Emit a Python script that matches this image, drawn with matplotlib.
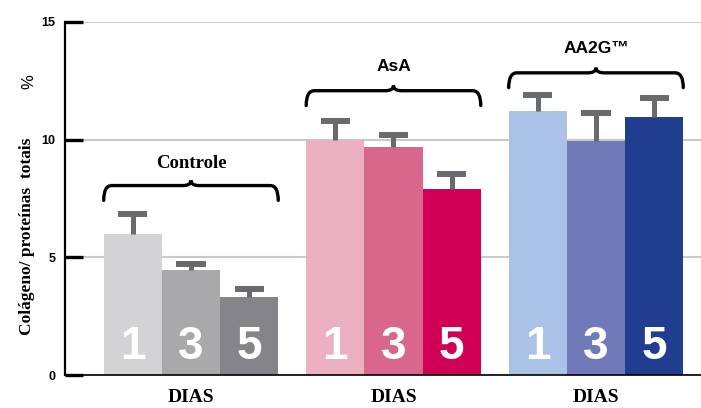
import matplotlib
matplotlib.use('Agg')
import matplotlib.pyplot as plt
from matplotlib.path import Path
from matplotlib.patches import PathPatch
import numpy as np

# data (% colageno / proteinas totais)
groups = ['Controle', 'AsA', 'AA2G\u2122']
days = ['1', '3', '5']
means = [[6.0, 4.45, 3.3],
         [10.0, 9.7, 7.9],
         [11.2, 9.95, 10.95]]
errs = [[0.85, 0.25, 0.35],
        [0.8, 0.5, 0.65],
        [0.7, 1.2, 0.8]]
colors = [['#d3d3d5', '#a9a9ab', '#858589'],
          ['#ebb1c0', '#d9668b', '#cf0056'],
          ['#a9c2e6', '#707ab8', '#213d8f']]
yticks = [0, 5, 10, 15]

# layout
group_gap = 3.48
brace_levels = [8.05, 12.08, 12.84]
serif = 'Liberation Serif'
sans = 'Liberation Sans'


def brace(ax, x0, x1, y, h=0.63, rx=0.14, p=0.22):
    xm = (x0 + x1) / 2
    verts = [(x0, y - h), (x0, y), (x0 + rx, y),
             (xm - rx, y), (xm, y), (xm, y + p),
             (xm, y), (xm + rx, y),
             (x1 - rx, y), (x1, y), (x1, y - h)]
    codes = [Path.MOVETO, Path.CURVE3, Path.CURVE3,
             Path.LINETO, Path.CURVE3, Path.CURVE3,
             Path.CURVE3, Path.CURVE3,
             Path.LINETO, Path.CURVE3, Path.CURVE3]
    ax.add_patch(PathPatch(Path(verts, codes), fill=False, lw=2.4,
                           color='black', clip_on=False, capstyle='round'))


fig = plt.figure(figsize=(7.01, 4.08), dpi=100)
ax = fig.add_axes([65 / 701, 33 / 408, 636 / 701, 353 / 408])

for g, name in enumerate(groups):
    gc = g * group_gap
    xs = gc + np.arange(len(days)) - 1
    ax.bar(xs, means[g], width=1.0, color=colors[g], zorder=2)
    tops = np.array(means[g]) + np.array(errs[g])
    ax.vlines(xs, means[g], tops, color='#6a6a6e', lw=3.6, zorder=3)
    ax.hlines(tops, xs - 0.25, xs + 0.25, color='#6a6a6e', lw=4.3,
              zorder=3, capstyle='butt')
    for x, d in zip(xs, days):
        ax.text(x, 1.17, d, color='white', fontsize=33, fontweight='bold',
                family=sans, ha='center', va='center', zorder=4)
    brace(ax, xs[0] - 0.5, xs[-1] + 0.5, brace_levels[g])
    if g == 0:
        ax.text(gc, brace_levels[g] + 0.95, name, family=serif,
                fontweight='bold', fontsize=13.5, ha='center', va='center')
    else:
        ax.text(gc, brace_levels[g] + 1.05, name, family=sans,
                fontweight='bold', fontsize=12.5, ha='center', va='center',
                clip_on=False)
    ax.text(gc, -0.6, 'DIAS', family=serif, fontweight='bold', fontsize=14,
            ha='center', va='top', clip_on=False)

ax.set_xlim(-2.165, 8.765)
ax.set_ylim(0, 15)
ax.set_yticks(yticks)
ax.set_yticklabels([str(t) for t in yticks], family=sans, fontweight='bold',
                   fontsize=9)
ax.tick_params(axis='y', direction='in', length=13, width=2.4, pad=7,
               color='black')
ax.set_xticks([])
ax.grid(axis='y', color='#c9c9cb', lw=1.5, zorder=0)
ax.set_axisbelow(True)
for s in ['top', 'right']:
    ax.spines[s].set_visible(False)
ax.spines['left'].set_linewidth(1.6)
ax.spines['bottom'].set_linewidth(1.2)

fig.text(27 / 701, 0.42, 'Col\u00e1geno/ prote\u00ednas  totais', rotation=90,
         family=serif, fontweight='bold', fontsize=12.5, ha='center',
         va='center')
fig.text(29 / 701, 0.80, '%', rotation=90, family=sans, fontsize=12,
         ha='center', va='center')

fig.savefig('out.png', dpi=100)
